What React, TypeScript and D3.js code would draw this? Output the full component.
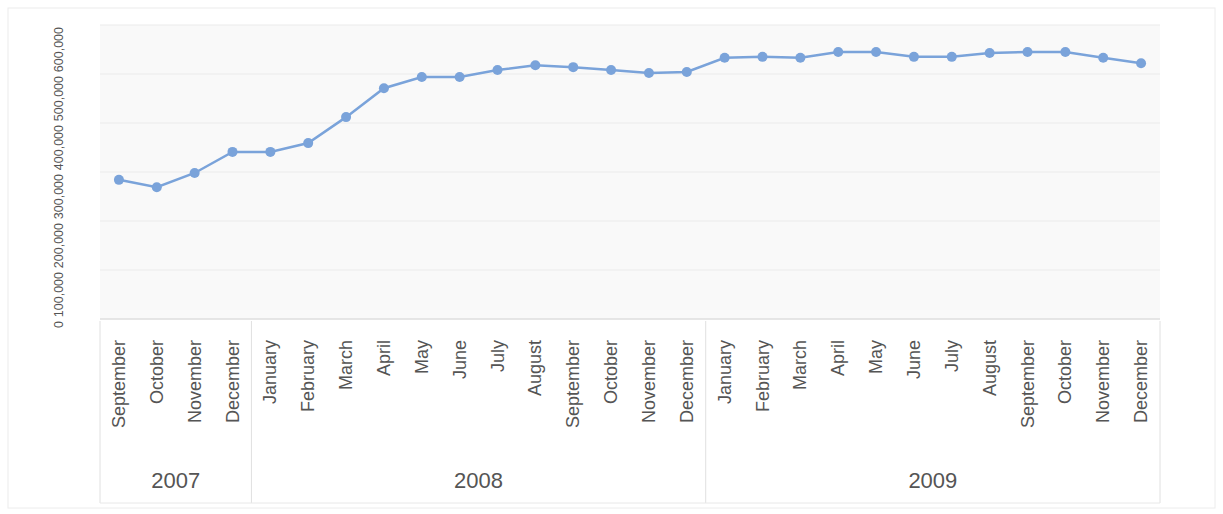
import React from "react";
import * as d3 from "d3";

const months = [
  "September", "October", "November", "December",
  "January", "February", "March", "April", "May", "June", "July", "August", "September", "October", "November", "December",
  "January", "February", "March", "April", "May", "June", "July", "August", "September", "October", "November", "December",
];
const years = ["2007", "2008", "2009"];
const yearSpans = [4, 12, 12];
const values = [
  284000, 269000, 298000, 341000, 341000, 359000, 412000, 471000, 494000, 494000, 508000, 518000,
  514000, 508000, 502000, 504000, 533000, 535000, 533000, 545000, 545000, 535000, 535000, 543000,
  545000, 545000, 533000, 522000,
];
const yTicks = [0, 100000, 200000, 300000, 400000, 500000, 600000];

const W = 1223;
const H = 514;
const left = 100;
const right = 1160;
const top = 25;
const bottom = 319;

export default function App() {
  const idx = values.map((_, i) => i);
  const x = d3.scalePoint<number>().domain(idx).range([left, right]).padding(0.5);
  const step = x.step();
  const y = d3.scaleLinear().domain([0, 600000]).range([bottom, top]);
  const line = d3.line<number>().x((_, i) => x(i) as number).y((d) => y(d));
  const fmt = d3.format(",");

  let acc = 0;
  const bounds = yearSpans.map((n) => {
    const s = acc;
    acc += n;
    return [s, acc];
  });

  return (
    <svg
      width={W}
      height={H}
      style={{ position: "fixed", left: 0, top: 0, background: "#fff" }}
      fontFamily="'Liberation Sans', Arial, sans-serif"
    >
      <rect x={8} y={8} width={W - 16} height={H - 14} fill="#fff" stroke="#ececec" />
      <rect x={left} y={top} width={right - left} height={bottom - top} fill="#f9f9f9" />
      {yTicks.map((t) => (
        <line key={t} x1={left} x2={right} y1={y(t)} y2={y(t)} stroke="#ebebeb" />
      ))}
      <line x1={left} x2={right} y1={bottom} y2={bottom} stroke="#d8d8d8" />
      {yTicks.map((t) => (
        <text
          key={"l" + t}
          transform={`translate(63,${y(t) + 2}) rotate(-90)`}
          textAnchor="end"
          fontSize={12.5}
          fill="#555"
        >
          {fmt(t)}
        </text>
      ))}
      <path d={line(values) || ""} fill="none" stroke="#7aa3da" strokeWidth={2.5} />
      {values.map((v, i) => (
        <circle key={i} cx={x(i)} cy={y(v)} r={5} fill="#7aa3da" />
      ))}
      {months.map((m, i) => (
        <text
          key={"m" + i}
          transform={`translate(${(x(i) as number) + 6},340) rotate(-90)`}
          textAnchor="end"
          fontSize={18}
          fill="#555"
        >
          {m}
        </text>
      ))}
      {bounds.map(([s, e], k) => {
        const x0 = (x(s) as number) - step / 2;
        const x1 = (x(e - 1) as number) + step / 2;
        return (
          <g key={"y" + k}>
            <line x1={x0} x2={x0} y1={bottom + 2} y2={503} stroke="#e0e0e0" />
            {k === bounds.length - 1 && (
              <line x1={x1} x2={x1} y1={bottom + 2} y2={503} stroke="#e0e0e0" />
            )}
            <text x={(x0 + x1) / 2} y={488} textAnchor="middle" fontSize={22} fill="#555">
              {years[k]}
            </text>
          </g>
        );
      })}
      <line x1={left} x2={right} y1={503} y2={503} stroke="#e8e8e8" />
    </svg>
  );
}
